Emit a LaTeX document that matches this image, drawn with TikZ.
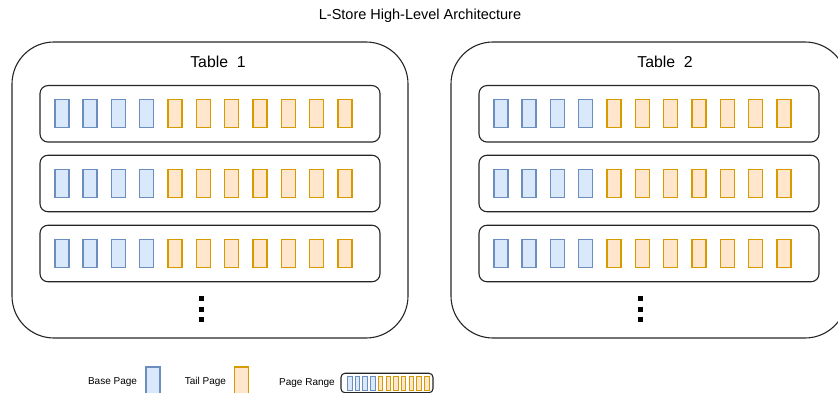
\documentclass[tikz,border=0pt]{standalone}
\usepackage{fontspec}
\setmainfont{Liberation Sans}
\definecolor{bfill}{HTML}{DAE8FC}
\definecolor{bdraw}{HTML}{6C8EBF}
\definecolor{ofill}{HTML}{FFE6CC}
\definecolor{odraw}{HTML}{D79B00}
\tikzset{
  tablebox/.style={draw=black!85, line width=1.1pt, rounded corners=42pt, minimum width=396pt, minimum height=296pt, inner sep=0pt},
  rangebox/.style={draw=black!85, line width=1.1pt, rounded corners=8pt, minimum width=340pt, minimum height=56.5pt, inner sep=0pt},
  basepg/.style={draw=bdraw, fill=bfill, line width=1.4pt, minimum width=14pt, minimum height=28pt, inner sep=0pt},
  tailpg/.style={draw=odraw, fill=ofill, line width=1.4pt, minimum width=14pt, minimum height=28pt, inner sep=0pt},
  minibase/.style={draw=bdraw, fill=bfill, line width=1pt, minimum width=4.5pt, minimum height=14.5pt, inner sep=0pt},
  minitail/.style={draw=odraw, fill=ofill, line width=1pt, minimum width=4.5pt, minimum height=14.5pt, inner sep=0pt},
  dotsq/.style={fill=black, minimum size=5pt, inner sep=0pt},
  ttl/.style={font=\fontsize{15.8}{18}\selectfont, inner sep=0pt},
  lgd/.style={font=\fontsize{10}{12}\selectfont, inner sep=0pt},
}
\begin{document}
\begin{tikzpicture}[x=1pt,y=-1pt]
\useasboundingbox (0,0) rectangle (838,393);
\begin{scope}
\clip (0,0) rectangle (838,393);
\node[font=\fontsize{14.5}{17}\selectfont, inner sep=0pt] (title) at (420,16) {L-Store High-Level Architecture};
% tables
\node[tablebox] (t1) at (210,190) {};
\node[tablebox] (t2) at (649,190) {};
\node[ttl] (t1title) at (218,62) {Table\ \ 1};
\node[ttl] (t2title) at (665,62) {Table\ \ 2};
\foreach \t/\cx in {1/210, 2/649}{
  \foreach \r/\cy in {1/113.8, 2/183.5, 3/253.5}{
    \node[rangebox] (r\t\r) at (\cx,\cy) {};
    \foreach \i in {0,...,10}{
      \pgfmathsetmacro{\px}{\cx-170+21.8+28.33*\i}
      \ifnum\i<4
        \node[basepg] (p\t\r\i) at (\px,\cy) {};
      \else
        \node[tailpg] (p\t\r\i) at (\px,\cy) {};
      \fi
    }
  }
}
\foreach \t/\dx in {1/201, 2/640}{
  \node[dotsq] (d\t a) at (\dx,298) {};
  \node[dotsq] (d\t b) at (\dx,309) {};
  \node[dotsq] (d\t c) at (\dx,319.5) {};
}
% legend
\node[lgd] (lbase) at (112.5,382) {Base Page};
\node[basepg, minimum height=29pt] (lbasebox) at (153,381.5) {};
\node[lgd] (ltail) at (205.4,382) {Tail Page};
\node[tailpg, minimum height=29pt] (ltailbox) at (241.5,381.5) {};
\node[lgd] (lrange) at (307,383) {Page Range};
\node[draw=black!85, line width=1.1pt, rounded corners=4pt, minimum width=92pt, minimum height=19.5pt, inner sep=0pt] (lrangebox) at (387,383) {};
\foreach \i in {0,...,10}{
  \pgfmathsetmacro{\mx}{349.8+7.7*\i}
  \ifnum\i<4
    \node[minibase] (m\i) at (\mx,383.3) {};
  \else
    \node[minitail] (m\i) at (\mx,383.3) {};
  \fi
}
\end{scope}
\end{tikzpicture}
\end{document}
